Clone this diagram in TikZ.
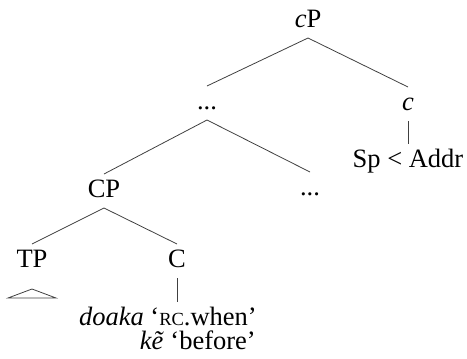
\documentclass[tikz,border=0pt]{standalone}
\usepackage{fontspec}
\setmainfont{Liberation Serif}
\usetikzlibrary{calc}
\begin{document}
\begin{tikzpicture}[x=1pt,y=-1pt,
  lab/.style={inner sep=0pt, outer ysep=5pt, text height=18pt, text depth=6pt, anchor=base, font=\fontsize{26.5}{26}\selectfont},
  gloss/.style={inner sep=0pt, outer ysep=5pt, text height=18pt, text depth=6pt, anchor=base east, font=\fontsize{26.5}{26}\selectfont},
  branch/.style={draw=black!75, line width=0.8pt}]
\useasboundingbox (0,0) rectangle (467,359);
\node[lab] (cP) at (308,27) {\textit{c}P};
\node[lab] (d1) at (207,109) {...};
\node[lab] (c) at (408,110) {\textit{c}};
\node[lab] (sp) at (408,167) {Sp < Addr};
\node[lab] (CP) at (104,197) {CP};
\node[lab] (d2) at (310,195) {...};
\node[lab] (TP) at (32,267) {TP};
\node[lab] (C) at (177,267) {C};
\node[gloss] (g1) at (257,325) {\textit{doaka} ‘{\fontsize{18.5}{18}\selectfont RC}.when’};
\node[gloss] (g2) at (256,349) {\textit{kẽ} ‘before’};
\draw[branch] (cP.south) -- (d1.north);
\draw[branch] (cP.south) -- (c.north);
\draw[branch] (c.south) -- (sp.north);
\draw[branch] (d1.south) -- (CP.north);
\draw[branch] (d1.south) -- (d2.north);
\draw[branch] (CP.south) -- (TP.north);
\draw[branch] (CP.south) -- (C.north);
\draw[branch] (C.south) -- (C.south |- g1.north);
\draw[branch] ([yshift=-22pt]TP.base) -- ++(-24,9) -- ++(48,0) -- cycle;
\end{tikzpicture}
\end{document}
